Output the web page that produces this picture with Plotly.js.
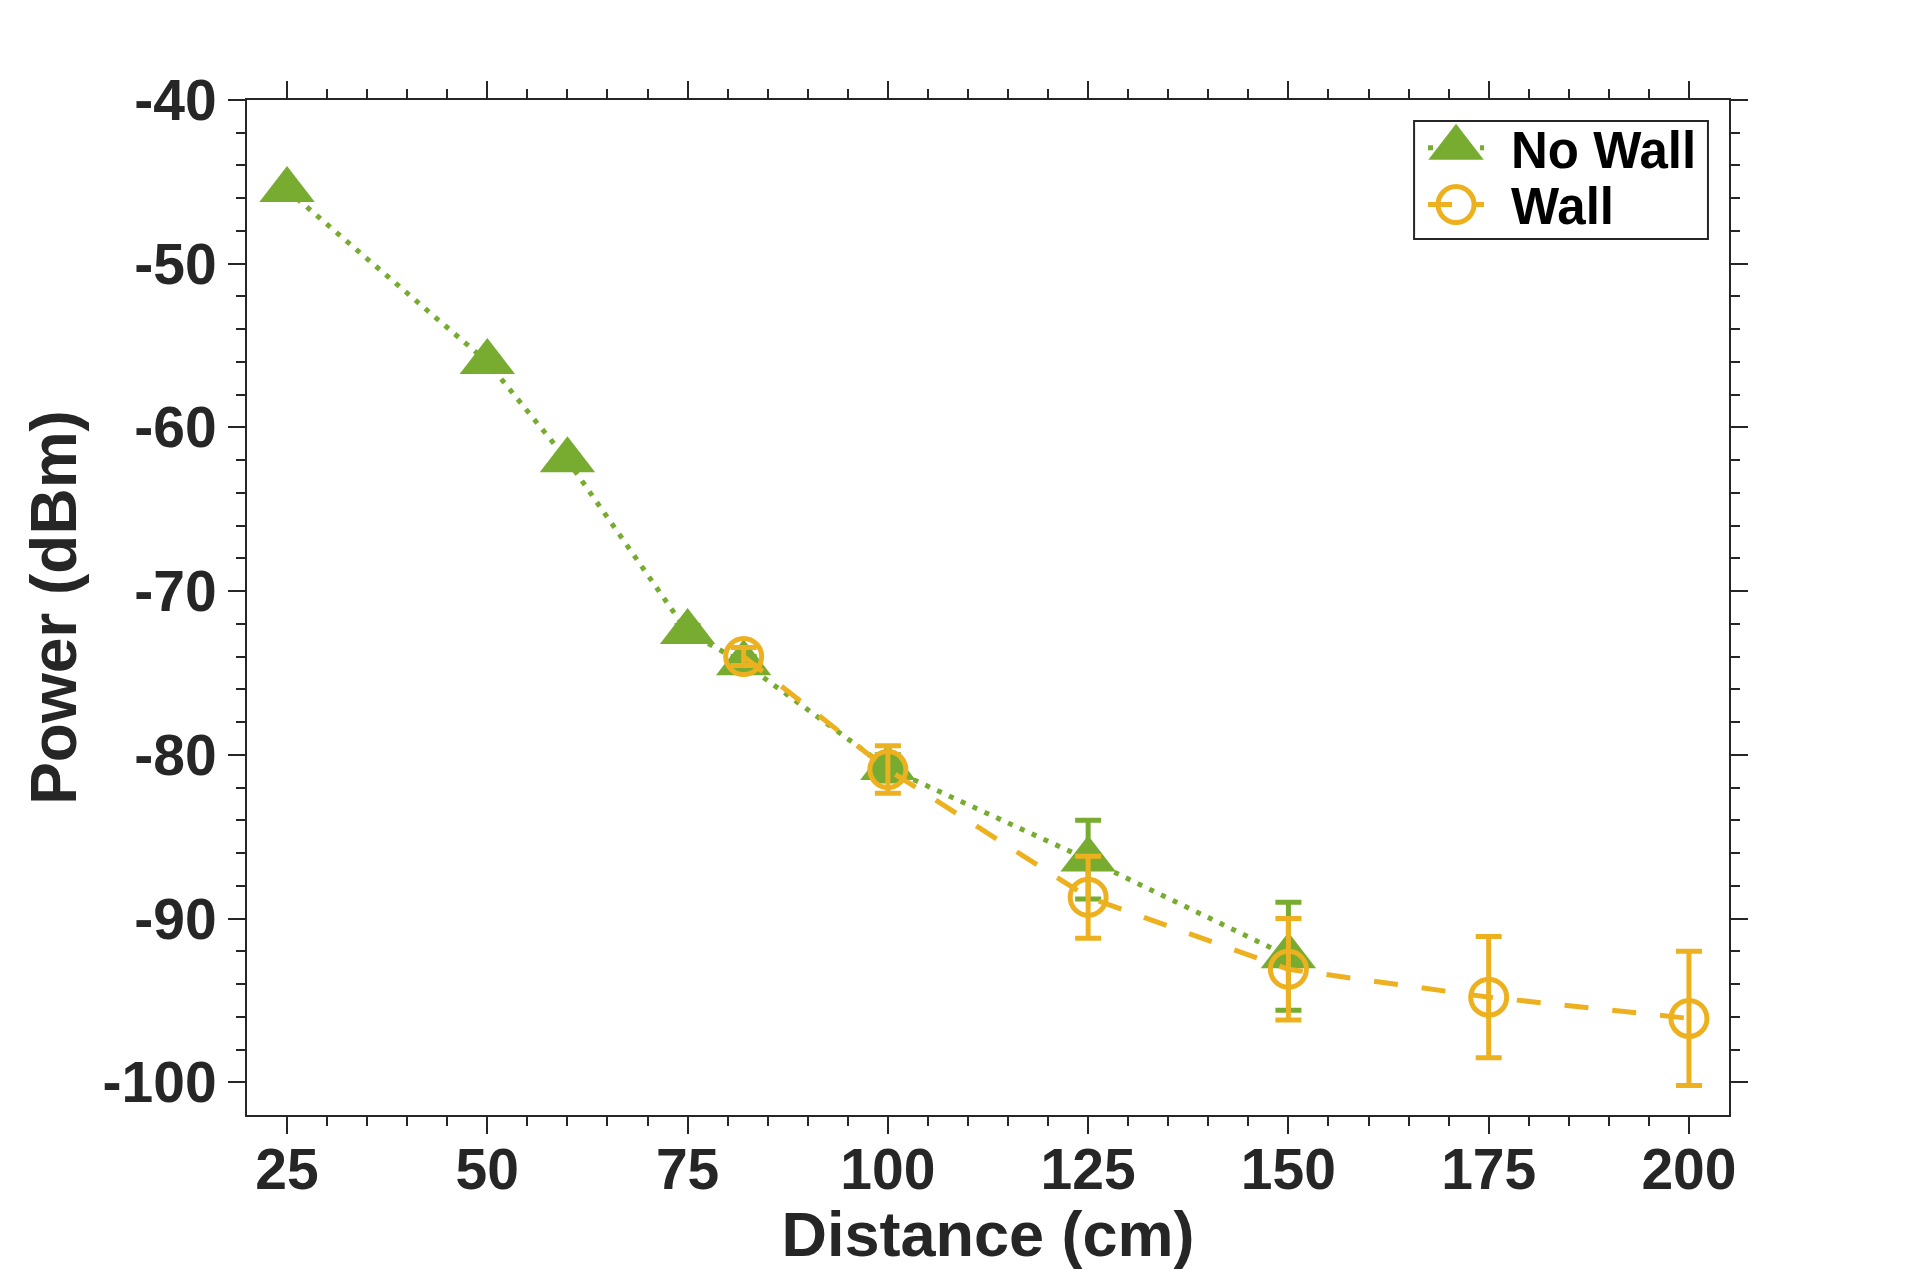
<!DOCTYPE html>
<html>
<head>
<meta charset="utf-8">
<script src="https://cdn.plot.ly/plotly-3.0.1.min.js"></script>
<style>
  html, body { margin: 0; padding: 0; background: #ffffff; }
  #chart { width: 1911px; height: 1269px; }
</style>
</head>
<body>
<div id="chart"></div>
<script>
// Received power versus distance, with and without a wall in the path
const noWallDistance = [25, 50, 60, 75, 82, 100, 125, 150];
const noWallPower    = [-45.5, -56.0, -62.0, -72.5, -74.4, -80.8, -86.4, -92.3];
const noWallError    = [0.2, 0.3, 0.3, 0.4, 0.4, 0.8, 2.4, 3.3];

const wallDistance = [82, 100, 125, 150, 175, 200];
const wallPower    = [-74.0, -80.9, -88.7, -93.1, -94.8, -96.1];
const wallError    = [0.55, 1.45, 2.5, 3.1, 3.7, 4.1];

const seriesNames   = ['No Wall', 'Wall'];
const distanceTicks = [25, 50, 75, 100, 125, 150, 175, 200];
const powerTicks    = [-100, -90, -80, -70, -60, -50, -40];
const distanceLabels = ['25', '50', '75', '100', '125', '150', '175', '200'];
const powerLabels    = ['-100', '-90', '-80', '-70', '-60', '-50', '-40'];

const GREEN = '#77AC30';
const ORANGE = '#EDB120';
const INK = '#262626';
const FONT = 'Liberation Sans, Arial, Helvetica, sans-serif';

// minor tick marks between the labelled ticks
const distanceMinor = [];
for (let v = 30; v <= 195; v += 5) if (v % 25 !== 0) distanceMinor.push(v);
const powerMinor = [];
for (let v = -98; v <= -42; v += 2) if (v % 10 !== 0) powerMinor.push(v);

const noWall = {
  type: 'scatter', mode: 'lines+markers', name: seriesNames[0],
  x: noWallDistance, y: noWallPower,
  error_y: { type: 'data', array: noWallError, visible: true,
             color: GREEN, thickness: 5, width: 13 },
  line: { color: GREEN, width: 5, dash: '5px,8px' },
  marker: { symbol: 'triangle-up', size: 48, color: GREEN, line: { width: 0 } },
  legend: 'legend'
};

const wall = {
  type: 'scatter', mode: 'lines+markers', name: seriesNames[1],
  x: wallDistance, y: wallPower,
  error_y: { type: 'data', array: wallError, visible: true,
             color: ORANGE, thickness: 5, width: 13 },
  line: { color: ORANGE, width: 5, dash: '24px,24px' },
  marker: { symbol: 'circle-open', size: 36, color: ORANGE, line: { color: ORANGE, width: 5 } },
  legend: 'legend2'
};

const axisBase = {
  showline: true, linecolor: INK, linewidth: 2, mirror: 'ticks',
  ticks: 'outside', ticklen: 17, tickwidth: 2, tickcolor: INK,
  showgrid: false, zeroline: false,
  tickfont: { family: FONT, size: 57, color: INK, weight: 700 }
};

const legendBase = {
  xanchor: 'left', yanchor: 'middle', x: 0.7787,
  bgcolor: 'rgba(0,0,0,0)', borderwidth: 0, itemwidth: 100,
  font: { family: FONT, size: 51, color: '#000000', weight: 700 }
};

const layout = {
  width: 1911, height: 1269,
  margin: { l: 247, r: 182, t: 100, b: 154, pad: 0 },
  paper_bgcolor: '#ffffff', plot_bgcolor: '#ffffff',
  showlegend: true,
  xaxis: Object.assign({}, axisBase, {
    range: [20, 205], tickmode: 'array', tickvals: distanceTicks, ticktext: distanceLabels,
    ticklabelstandoff: -13,
    minor: { tickmode: 'array', tickvals: distanceMinor, ticks: 'outside',
             ticklen: 9, tickwidth: 2, tickcolor: INK, showgrid: false },
    title: { text: 'Distance (cm)', standoff: 38,
             font: { family: FONT, size: 63, color: INK, weight: 700 } }
  }),
  yaxis: Object.assign({}, axisBase, {
    range: [-102, -40], tickmode: 'array', tickvals: powerTicks, ticktext: powerLabels,
    ticklabelstandoff: 0,
    minor: { tickmode: 'array', tickvals: powerMinor, ticks: 'outside',
             ticklen: 9, tickwidth: 2, tickcolor: INK, showgrid: false },
    title: { text: 'Power (dBm)', standoff: 5,
             font: { family: FONT, size: 64, color: INK, weight: 700 } }
  }),
  legend: Object.assign({}, legendBase, { y: 0.9527 }),
  legend2: Object.assign({}, legendBase, { y: 0.8966 }),
  shapes: [{
    type: 'rect', xref: 'paper', yref: 'paper', layer: 'above',
    x0: 0.7875, x1: 0.9858, y0: 0.8631, y1: 0.9793,
    line: { color: INK, width: 2 }, fillcolor: 'rgba(0,0,0,0)'
  }]
};

Plotly.newPlot('chart', [noWall, wall], layout, { staticPlot: true }).then(function (gd) {
  // legend swatches: markers at plot size, short line segment centred on the marker
  const scales = [3, 2.25];
  const centre = (legendBase.itemwidth + 10) / 2;
  gd.querySelectorAll('.infolayer .legendpoints path.scatterpts').forEach(function (p, i) {
    const k = scales[i] || 1;
    p.setAttribute('transform', (p.getAttribute('transform') || '') + ' scale(' + k + ')');
    p.setAttribute('vector-effect', 'non-scaling-stroke');
  });
  gd.querySelectorAll('.infolayer .legendlines path').forEach(function (p) {
    p.setAttribute('d', 'M' + (centre - 28) + ',0h56');
  });
});
</script>
</body>
</html>
